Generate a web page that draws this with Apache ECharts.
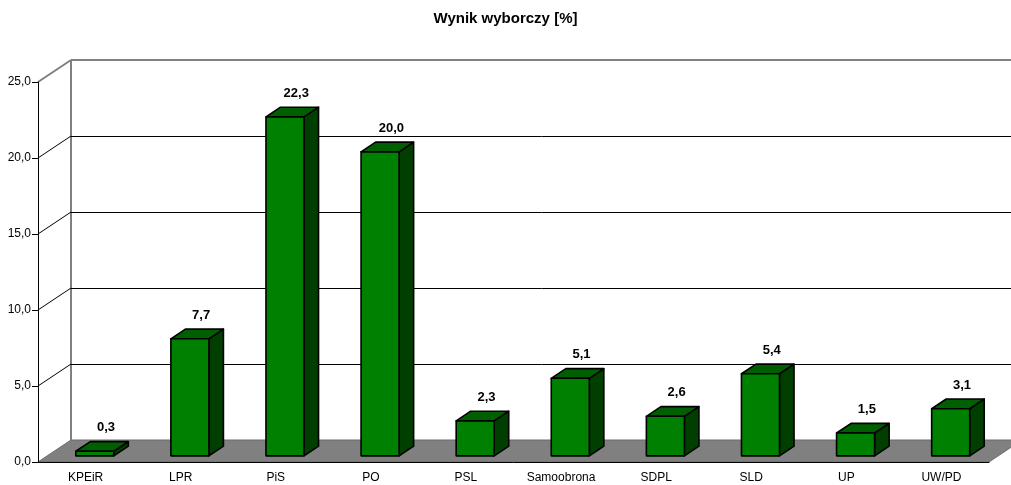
<!DOCTYPE html>
<html>
<head>
<meta charset="utf-8">
<script src="https://cdn.jsdelivr.net/npm/echarts@6/dist/echarts.min.js"></script>
<style>
  html, body { margin: 0; padding: 0; background: #fff; }
  #chart { width: 1011px; height: 485px; }
</style>
</head>
<body>
<div id="chart"></div>
<script>
const categories = ['KPEiR', 'LPR', 'PiS', 'PO', 'PSL', 'Samoobrona', 'SDPL', 'SLD', 'UP', 'UW/PD'];
const values = [0.3, 7.7, 22.3, 20.0, 2.3, 5.1, 2.6, 5.4, 1.5, 3.1];
const yTicks = [0, 5, 10, 15, 20, 25];

// depth of the fake 3d box
const DX = 33, DY = -22;
const fmt = (v) => v.toFixed(1).replace('.', ',');
const crisp = (n) => Math.round(n) + 0.5;

const chart = echarts.init(document.getElementById('chart'));

const option = {
  animation: false,
  title: {
    text: 'Wynik wyborczy [%]',
    left: 'center',
    top: 6,
    textStyle: { fontFamily: 'Arial, Liberation Sans', fontSize: 15, fontWeight: 'bold', color: '#000' }
  },
  grid: { left: 38, right: 22, top: 82, bottom: 23 },
  xAxis: {
    type: 'category',
    data: categories,
    z: 5,
    axisLine: { lineStyle: { color: '#000', width: 1 } },
    axisTick: { length: 5, lineStyle: { color: '#000' } },
    axisLabel: { color: '#000', fontFamily: 'Arial, Liberation Sans', fontSize: 12, margin: 10 },
    splitLine: { show: false }
  },
  yAxis: {
    type: 'value',
    min: 0,
    max: 25,
    interval: 5,
    z: 5,
    axisLine: { show: true, lineStyle: { color: '#000', width: 1 } },
    axisTick: { show: true, length: 6, lineStyle: { color: '#000' } },
    axisLabel: { color: '#000', fontFamily: 'Arial, Liberation Sans', fontSize: 12, margin: 7, formatter: fmt },
    splitLine: { show: false }
  },
  series: [
    {
      // floor, back wall and grid lines
      type: 'custom',
      z: 1,
      silent: true,
      data: yTicks.map(v => [0, v]),
      renderItem: function (params, api) {
        const cs = params.coordSys;
        const v = api.value(1);
        const y = api.coord([0, v])[1];
        const children = [];
        const top = v === yTicks[yTicks.length - 1];
        const by = crisp(y + DY);
        if (v === 0) {
          children.push({
            type: 'polygon',
            shape: { points: [[cs.x, y], [cs.x + DX, y + DY], [cs.x + cs.width + DX, y + DY], [cs.x + cs.width, y]] },
            style: { fill: '#808080', stroke: '#6a6a6a', lineWidth: 1 }
          });
          const yTop = api.coord([0, yTicks[yTicks.length - 1]])[1];
          children.push({
            type: 'line',
            shape: { x1: cs.x + DX, y1: y + DY, x2: cs.x + DX, y2: yTop + DY },
            style: { stroke: '#808080', lineWidth: 2 }
          });
        } else {
          children.push({
            type: 'line',
            shape: { x1: cs.x, y1: y, x2: cs.x + DX, y2: y + DY },
            style: { stroke: top ? '#808080' : '#000', lineWidth: top ? 2 : 1 }
          });
          children.push({
            type: 'line',
            shape: top
              ? { x1: cs.x + DX, y1: y + DY, x2: cs.x + cs.width + DX, y2: y + DY }
              : { x1: cs.x + DX, y1: by, x2: cs.x + cs.width + DX, y2: by },
            style: { stroke: top ? '#808080' : '#000', lineWidth: top ? 2 : 1 }
          });
        }
        return { type: 'group', children: children };
      }
    },
    {
      // 3d bars
      type: 'custom',
      z: 3,
      data: values.map((v, i) => [i, v]),
      renderItem: function (params, api) {
        const i = api.value(0);
        const v = api.value(1);
        const base = api.coord([i, 0]);
        const top = api.coord([i, v]);
        const band = api.size([1, 0])[0];
        const w = band * 0.4;
        const f = 0.28, d = 0.44;
        const x0 = base[0] + f * DX - w / 2;
        const yb = base[1] + f * DY;
        const yt = top[1] + f * DY;
        const dx = d * DX, dy = d * DY;
        const line = { stroke: '#000', lineWidth: 1.6, lineJoin: 'round' };
        return {
          type: 'group',
          children: [
            {
              type: 'polygon',
              shape: { points: [[x0 + w, yt], [x0 + w + dx, yt + dy], [x0 + w + dx, yb + dy], [x0 + w, yb]] },
              style: Object.assign({ fill: '#003f00' }, line)
            },
            {
              type: 'polygon',
              shape: { points: [[x0, yt], [x0 + w, yt], [x0 + w + dx, yt + dy], [x0 + dx, yt + dy]] },
              style: Object.assign({ fill: '#005f00' }, line)
            },
            {
              type: 'rect',
              shape: { x: x0, y: yt, width: w, height: yb - yt },
              style: Object.assign({ fill: '#008000' }, line)
            },
            {
              type: 'text',
              x: x0 + w / 2 + dx / 2 + 4,
              y: yt + dy - 14,
              style: {
                text: fmt(v),
                align: 'center',
                verticalAlign: 'middle',
                fill: '#000',
                font: 'bold 13px Arial, Liberation Sans'
              }
            }
          ]
        };
      }
    }
  ]
};

chart.setOption(option);
</script>
</body>
</html>
